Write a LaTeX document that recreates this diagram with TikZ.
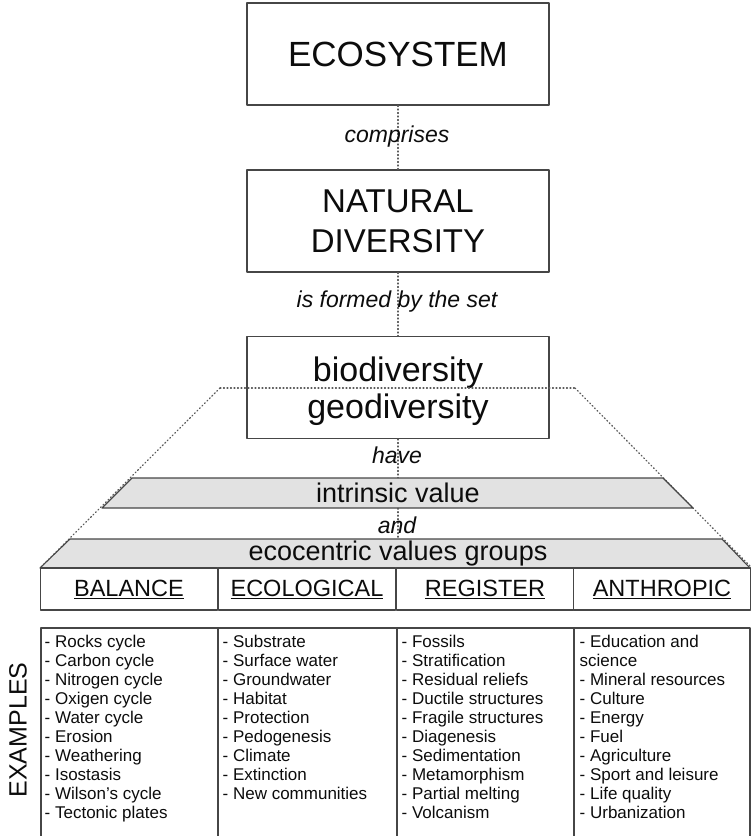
\documentclass[tikz,border=0pt]{standalone}
\usepackage{fontspec}
\setmainfont{Liberation Sans}
\definecolor{ink}{RGB}{12,12,12}
\definecolor{frame}{RGB}{70,70,70}
\definecolor{dots}{RGB}{90,90,90}
\definecolor{band}{RGB}{226,226,226}
\begin{document}
\begin{tikzpicture}[x=1pt,y=-1pt,line cap=round,line join=round,
  box/.style={draw=frame,line width=1.1pt,inner sep=0pt,minimum width=302pt,minimum height=102pt,text=ink,align=center},
  link/.style={dots,line width=1.3pt,dash pattern=on .9pt off 2.6pt},
  verb/.style={font=\fontsize{23}{26}\selectfont\itshape,text=ink,inner sep=0pt},
  bandtext/.style={font=\fontsize{27}{30}\selectfont,text=ink,inner sep=0pt,minimum height=30pt},
  cat/.style={draw=frame,line width=1.1pt,minimum width=177.5pt,minimum height=42pt,inner sep=0pt,font=\fontsize{23.5}{26}\selectfont,text=ink},
  items/.style={font=\fontsize{17}{19}\selectfont,text=ink,align=left,anchor=north west,inner sep=0pt}]
\useasboundingbox (0,0) rectangle (751,836);
% boxes
\node[box,font=\fontsize{35}{40}\selectfont] (eco) at (398,54) {ECOSYSTEM};
\node[box,font=\fontsize{33}{40}\selectfont] (nat) at (398,221) {NATURAL\\DIVERSITY};
\node[box,font=\fontsize{34}{37}\selectfont,text depth=0pt] (div) at (398,387.5) {biodiversity\\geodiversity};
% pyramid outline
\draw[link] (220,388) -- (575,388);
\draw[link] (220,388) -- (40,568);
\draw[link] (575,388) -- (751,567);
% value bands
\path[draw=frame,fill=band,line width=1.1pt] (132,478) -- (663,478) -- (693,508) -- (102,508) -- cycle;
\path[draw=frame,fill=band,line width=1.1pt] (70,539) -- (722,539) -- (750,568) -- (40,568) -- cycle;
\node[bandtext] (intr) at (398,493) {intrinsic value};
\node[bandtext,minimum height=29pt] (ecoc) at (398,554) {ecocentric values groups};
% links
\draw[link] (eco.south) -- (nat.north);
\draw[link] (nat.south) -- (div.north);
\draw[link] (div.south) -- (intr.north);
\draw[link] (intr.south) -- (ecoc.north);
\node[verb] (comp) at (397,137) {comprises};
\node[verb] (formed) at (397,302) {is formed by the set};
\node[verb] (have) at (397,455) {have};
\node[verb] (andw) at (397,525) {and};
% groups
\node[cat] (bal) at (129,589) {\underline{BALANCE}};
\node[cat] (ecol) at (307,589) {\underline{ECOLOGICAL}};
\node[cat] (reg) at (485,589) {\underline{REGISTER}};
\node[cat] (anth) at (662,589) {\underline{ANTHROPIC}};
% examples table
\draw[frame,line width=1.1pt] (41,840) -- (41,628) -- (750,628) -- (750,840);
\draw[frame,line width=1.1pt] (218,628) -- (218,840);
\draw[frame,line width=1.1pt] (397,628) -- (397,840);
\draw[frame,line width=1.1pt] (574,628) -- (574,840);
\node[rotate=90,font=\fontsize{25}{28}\selectfont,text=ink,inner sep=0pt] (examples) at (18,730) {EXAMPLES};
\node[items] (balex) at (44.5,634.6) {- Rocks cycle\\- Carbon cycle\\- Nitrogen cycle\\- Oxigen cycle\\- Water cycle\\- Erosion\\- Weathering\\- Isostasis\\- Wilson's cycle\\- Tectonic plates};
\node[items] (ecolex) at (222.5,634.6) {- Substrate\\- Surface water\\- Groundwater\\- Habitat\\- Protection\\- Pedogenesis\\- Climate\\- Extinction\\- New communities};
\node[items] (regex) at (401.5,634.6) {- Fossils\\- Stratification\\- Residual reliefs\\- Ductile structures\\- Fragile structures\\- Diagenesis\\- Sedimentation\\- Metamorphism\\- Partial melting\\- Volcanism};
\node[items] (anthex) at (579.5,634.6) {- Education and\\science\\- Mineral resources\\- Culture\\- Energy\\- Fuel\\- Agriculture\\- Sport and leisure\\- Life quality\\- Urbanization};
\end{tikzpicture}
\end{document}
